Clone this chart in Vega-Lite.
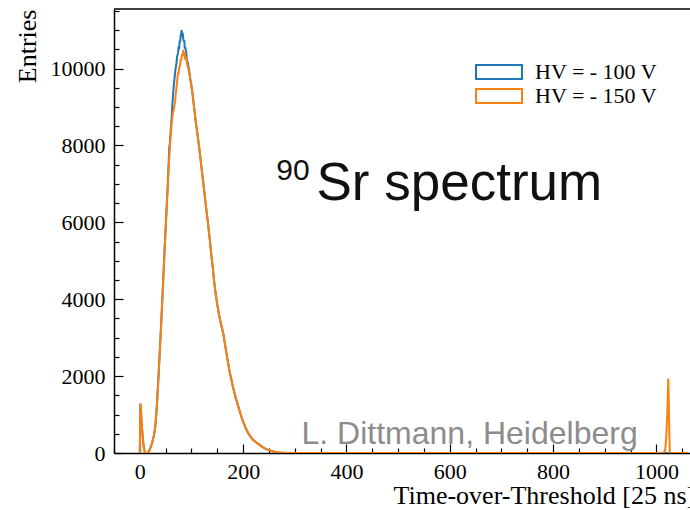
{
  "$schema": "https://vega.github.io/schema/vega-lite/v6.json",
  "width": 576,
  "height": 444,
  "autosize": {"type": "none"},
  "padding": {"left": 114, "top": 9, "right": 0, "bottom": 57},
  "background": "white",
  "config": {"view": {"stroke": null}, "font": "Liberation Serif"},
  "resolve": {"axis": {"x": "independent", "y": "independent"}},
  "datasets": {
    "spectra": [
      {"tot": 0, "entries": 0, "hv": "HV = - 100 V"},
      {"tot": 1, "entries": 1280, "hv": "HV = - 100 V"},
      {"tot": 2, "entries": 1150, "hv": "HV = - 100 V"},
      {"tot": 3, "entries": 900, "hv": "HV = - 100 V"},
      {"tot": 4, "entries": 700, "hv": "HV = - 100 V"},
      {"tot": 5, "entries": 520, "hv": "HV = - 100 V"},
      {"tot": 6, "entries": 360, "hv": "HV = - 100 V"},
      {"tot": 7, "entries": 230, "hv": "HV = - 100 V"},
      {"tot": 8, "entries": 130, "hv": "HV = - 100 V"},
      {"tot": 9, "entries": 60, "hv": "HV = - 100 V"},
      {"tot": 10, "entries": 20, "hv": "HV = - 100 V"},
      {"tot": 11, "entries": 5, "hv": "HV = - 100 V"},
      {"tot": 13, "entries": 0, "hv": "HV = - 100 V"},
      {"tot": 15, "entries": 10, "hv": "HV = - 100 V"},
      {"tot": 18, "entries": 50, "hv": "HV = - 100 V"},
      {"tot": 21, "entries": 150, "hv": "HV = - 100 V"},
      {"tot": 24, "entries": 280, "hv": "HV = - 100 V"},
      {"tot": 27, "entries": 440, "hv": "HV = - 100 V"},
      {"tot": 30, "entries": 690, "hv": "HV = - 100 V"},
      {"tot": 33, "entries": 1240, "hv": "HV = - 100 V"},
      {"tot": 36, "entries": 1960, "hv": "HV = - 100 V"},
      {"tot": 39, "entries": 2760, "hv": "HV = - 100 V"},
      {"tot": 42, "entries": 3560, "hv": "HV = - 100 V"},
      {"tot": 45, "entries": 4440, "hv": "HV = - 100 V"},
      {"tot": 48, "entries": 5320, "hv": "HV = - 100 V"},
      {"tot": 51, "entries": 6140, "hv": "HV = - 100 V"},
      {"tot": 54, "entries": 6980, "hv": "HV = - 100 V"},
      {"tot": 56, "entries": 7600, "hv": "HV = - 100 V"},
      {"tot": 57, "entries": 7950, "hv": "HV = - 100 V"},
      {"tot": 58, "entries": 8050, "hv": "HV = - 100 V"},
      {"tot": 60, "entries": 8420, "hv": "HV = - 100 V"},
      {"tot": 62, "entries": 8800, "hv": "HV = - 100 V"},
      {"tot": 63, "entries": 9080, "hv": "HV = - 100 V"},
      {"tot": 65, "entries": 9450, "hv": "HV = - 100 V"},
      {"tot": 66, "entries": 9600, "hv": "HV = - 100 V"},
      {"tot": 68, "entries": 9850, "hv": "HV = - 100 V"},
      {"tot": 69, "entries": 9980, "hv": "HV = - 100 V"},
      {"tot": 71, "entries": 10150, "hv": "HV = - 100 V"},
      {"tot": 72, "entries": 10300, "hv": "HV = - 100 V"},
      {"tot": 74, "entries": 10420, "hv": "HV = - 100 V"},
      {"tot": 75, "entries": 10580, "hv": "HV = - 100 V"},
      {"tot": 76, "entries": 10500, "hv": "HV = - 100 V"},
      {"tot": 77, "entries": 10720, "hv": "HV = - 100 V"},
      {"tot": 78, "entries": 10680, "hv": "HV = - 100 V"},
      {"tot": 79, "entries": 10850, "hv": "HV = - 100 V"},
      {"tot": 80, "entries": 10920, "hv": "HV = - 100 V"},
      {"tot": 81, "entries": 11000, "hv": "HV = - 100 V"},
      {"tot": 82, "entries": 10820, "hv": "HV = - 100 V"},
      {"tot": 83, "entries": 10930, "hv": "HV = - 100 V"},
      {"tot": 84, "entries": 10780, "hv": "HV = - 100 V"},
      {"tot": 85, "entries": 10700, "hv": "HV = - 100 V"},
      {"tot": 86, "entries": 10740, "hv": "HV = - 100 V"},
      {"tot": 87, "entries": 10520, "hv": "HV = - 100 V"},
      {"tot": 88, "entries": 10560, "hv": "HV = - 100 V"},
      {"tot": 90, "entries": 10400, "hv": "HV = - 100 V"},
      {"tot": 91, "entries": 10220, "hv": "HV = - 100 V"},
      {"tot": 93, "entries": 10150, "hv": "HV = - 100 V"},
      {"tot": 95, "entries": 9980, "hv": "HV = - 100 V"},
      {"tot": 96, "entries": 9900, "hv": "HV = - 100 V"},
      {"tot": 98, "entries": 9700, "hv": "HV = - 100 V"},
      {"tot": 99, "entries": 9640, "hv": "HV = - 100 V"},
      {"tot": 101, "entries": 9450, "hv": "HV = - 100 V"},
      {"tot": 102, "entries": 9350, "hv": "HV = - 100 V"},
      {"tot": 104, "entries": 9120, "hv": "HV = - 100 V"},
      {"tot": 105, "entries": 9000, "hv": "HV = - 100 V"},
      {"tot": 107, "entries": 8760, "hv": "HV = - 100 V"},
      {"tot": 108, "entries": 8650, "hv": "HV = - 100 V"},
      {"tot": 111, "entries": 8350, "hv": "HV = - 100 V"},
      {"tot": 114, "entries": 8050, "hv": "HV = - 100 V"},
      {"tot": 117, "entries": 7700, "hv": "HV = - 100 V"},
      {"tot": 120, "entries": 7350, "hv": "HV = - 100 V"},
      {"tot": 123, "entries": 7000, "hv": "HV = - 100 V"},
      {"tot": 126, "entries": 6650, "hv": "HV = - 100 V"},
      {"tot": 129, "entries": 6300, "hv": "HV = - 100 V"},
      {"tot": 132, "entries": 5980, "hv": "HV = - 100 V"},
      {"tot": 135, "entries": 5600, "hv": "HV = - 100 V"},
      {"tot": 138, "entries": 5200, "hv": "HV = - 100 V"},
      {"tot": 141, "entries": 4850, "hv": "HV = - 100 V"},
      {"tot": 144, "entries": 4450, "hv": "HV = - 100 V"},
      {"tot": 147, "entries": 4120, "hv": "HV = - 100 V"},
      {"tot": 150, "entries": 3860, "hv": "HV = - 100 V"},
      {"tot": 153, "entries": 3620, "hv": "HV = - 100 V"},
      {"tot": 156, "entries": 3420, "hv": "HV = - 100 V"},
      {"tot": 159, "entries": 3250, "hv": "HV = - 100 V"},
      {"tot": 162, "entries": 3080, "hv": "HV = - 100 V"},
      {"tot": 165, "entries": 2820, "hv": "HV = - 100 V"},
      {"tot": 168, "entries": 2570, "hv": "HV = - 100 V"},
      {"tot": 171, "entries": 2330, "hv": "HV = - 100 V"},
      {"tot": 174, "entries": 2100, "hv": "HV = - 100 V"},
      {"tot": 177, "entries": 1920, "hv": "HV = - 100 V"},
      {"tot": 180, "entries": 1740, "hv": "HV = - 100 V"},
      {"tot": 183, "entries": 1570, "hv": "HV = - 100 V"},
      {"tot": 186, "entries": 1420, "hv": "HV = - 100 V"},
      {"tot": 189, "entries": 1280, "hv": "HV = - 100 V"},
      {"tot": 192, "entries": 1150, "hv": "HV = - 100 V"},
      {"tot": 195, "entries": 1010, "hv": "HV = - 100 V"},
      {"tot": 198, "entries": 890, "hv": "HV = - 100 V"},
      {"tot": 201, "entries": 780, "hv": "HV = - 100 V"},
      {"tot": 204, "entries": 680, "hv": "HV = - 100 V"},
      {"tot": 207, "entries": 590, "hv": "HV = - 100 V"},
      {"tot": 210, "entries": 510, "hv": "HV = - 100 V"},
      {"tot": 214, "entries": 430, "hv": "HV = - 100 V"},
      {"tot": 218, "entries": 360, "hv": "HV = - 100 V"},
      {"tot": 222, "entries": 310, "hv": "HV = - 100 V"},
      {"tot": 226, "entries": 265, "hv": "HV = - 100 V"},
      {"tot": 230, "entries": 230, "hv": "HV = - 100 V"},
      {"tot": 235, "entries": 180, "hv": "HV = - 100 V"},
      {"tot": 240, "entries": 135, "hv": "HV = - 100 V"},
      {"tot": 245, "entries": 100, "hv": "HV = - 100 V"},
      {"tot": 250, "entries": 75, "hv": "HV = - 100 V"},
      {"tot": 255, "entries": 55, "hv": "HV = - 100 V"},
      {"tot": 260, "entries": 35, "hv": "HV = - 100 V"},
      {"tot": 270, "entries": 15, "hv": "HV = - 100 V"},
      {"tot": 280, "entries": 6, "hv": "HV = - 100 V"},
      {"tot": 290, "entries": 2, "hv": "HV = - 100 V"},
      {"tot": 300, "entries": 0, "hv": "HV = - 100 V"},
      {"tot": 1060, "entries": 0, "hv": "HV = - 100 V"},

      {"tot": 0, "entries": 0, "hv": "HV = - 150 V"},
      {"tot": 1, "entries": 1290, "hv": "HV = - 150 V"},
      {"tot": 2, "entries": 1160, "hv": "HV = - 150 V"},
      {"tot": 3, "entries": 910, "hv": "HV = - 150 V"},
      {"tot": 4, "entries": 700, "hv": "HV = - 150 V"},
      {"tot": 5, "entries": 510, "hv": "HV = - 150 V"},
      {"tot": 6, "entries": 350, "hv": "HV = - 150 V"},
      {"tot": 7, "entries": 220, "hv": "HV = - 150 V"},
      {"tot": 8, "entries": 120, "hv": "HV = - 150 V"},
      {"tot": 9, "entries": 55, "hv": "HV = - 150 V"},
      {"tot": 10, "entries": 18, "hv": "HV = - 150 V"},
      {"tot": 11, "entries": 4, "hv": "HV = - 150 V"},
      {"tot": 13, "entries": 0, "hv": "HV = - 150 V"},
      {"tot": 15, "entries": 10, "hv": "HV = - 150 V"},
      {"tot": 18, "entries": 45, "hv": "HV = - 150 V"},
      {"tot": 21, "entries": 145, "hv": "HV = - 150 V"},
      {"tot": 24, "entries": 270, "hv": "HV = - 150 V"},
      {"tot": 27, "entries": 430, "hv": "HV = - 150 V"},
      {"tot": 30, "entries": 680, "hv": "HV = - 150 V"},
      {"tot": 33, "entries": 1220, "hv": "HV = - 150 V"},
      {"tot": 36, "entries": 1930, "hv": "HV = - 150 V"},
      {"tot": 39, "entries": 2720, "hv": "HV = - 150 V"},
      {"tot": 42, "entries": 3520, "hv": "HV = - 150 V"},
      {"tot": 45, "entries": 4400, "hv": "HV = - 150 V"},
      {"tot": 48, "entries": 5270, "hv": "HV = - 150 V"},
      {"tot": 51, "entries": 6090, "hv": "HV = - 150 V"},
      {"tot": 54, "entries": 6900, "hv": "HV = - 150 V"},
      {"tot": 56, "entries": 7450, "hv": "HV = - 150 V"},
      {"tot": 58, "entries": 7950, "hv": "HV = - 150 V"},
      {"tot": 60, "entries": 8300, "hv": "HV = - 150 V"},
      {"tot": 62, "entries": 8620, "hv": "HV = - 150 V"},
      {"tot": 64, "entries": 8850, "hv": "HV = - 150 V"},
      {"tot": 66, "entries": 8950, "hv": "HV = - 150 V"},
      {"tot": 68, "entries": 9120, "hv": "HV = - 150 V"},
      {"tot": 70, "entries": 9400, "hv": "HV = - 150 V"},
      {"tot": 72, "entries": 9650, "hv": "HV = - 150 V"},
      {"tot": 74, "entries": 9900, "hv": "HV = - 150 V"},
      {"tot": 75, "entries": 9850, "hv": "HV = - 150 V"},
      {"tot": 76, "entries": 10020, "hv": "HV = - 150 V"},
      {"tot": 78, "entries": 10100, "hv": "HV = - 150 V"},
      {"tot": 79, "entries": 10250, "hv": "HV = - 150 V"},
      {"tot": 80, "entries": 10200, "hv": "HV = - 150 V"},
      {"tot": 81, "entries": 10300, "hv": "HV = - 150 V"},
      {"tot": 82, "entries": 10380, "hv": "HV = - 150 V"},
      {"tot": 83, "entries": 10340, "hv": "HV = - 150 V"},
      {"tot": 84, "entries": 10490, "hv": "HV = - 150 V"},
      {"tot": 85, "entries": 10360, "hv": "HV = - 150 V"},
      {"tot": 86, "entries": 10420, "hv": "HV = - 150 V"},
      {"tot": 87, "entries": 10300, "hv": "HV = - 150 V"},
      {"tot": 88, "entries": 10330, "hv": "HV = - 150 V"},
      {"tot": 90, "entries": 10250, "hv": "HV = - 150 V"},
      {"tot": 91, "entries": 10150, "hv": "HV = - 150 V"},
      {"tot": 93, "entries": 10050, "hv": "HV = - 150 V"},
      {"tot": 95, "entries": 9920, "hv": "HV = - 150 V"},
      {"tot": 96, "entries": 9850, "hv": "HV = - 150 V"},
      {"tot": 98, "entries": 9680, "hv": "HV = - 150 V"},
      {"tot": 99, "entries": 9620, "hv": "HV = - 150 V"},
      {"tot": 101, "entries": 9430, "hv": "HV = - 150 V"},
      {"tot": 102, "entries": 9340, "hv": "HV = - 150 V"},
      {"tot": 104, "entries": 9110, "hv": "HV = - 150 V"},
      {"tot": 105, "entries": 9000, "hv": "HV = - 150 V"},
      {"tot": 107, "entries": 8770, "hv": "HV = - 150 V"},
      {"tot": 108, "entries": 8640, "hv": "HV = - 150 V"},
      {"tot": 111, "entries": 8360, "hv": "HV = - 150 V"},
      {"tot": 114, "entries": 8040, "hv": "HV = - 150 V"},
      {"tot": 117, "entries": 7710, "hv": "HV = - 150 V"},
      {"tot": 120, "entries": 7340, "hv": "HV = - 150 V"},
      {"tot": 123, "entries": 7010, "hv": "HV = - 150 V"},
      {"tot": 126, "entries": 6640, "hv": "HV = - 150 V"},
      {"tot": 129, "entries": 6310, "hv": "HV = - 150 V"},
      {"tot": 132, "entries": 5970, "hv": "HV = - 150 V"},
      {"tot": 135, "entries": 5610, "hv": "HV = - 150 V"},
      {"tot": 138, "entries": 5190, "hv": "HV = - 150 V"},
      {"tot": 141, "entries": 4860, "hv": "HV = - 150 V"},
      {"tot": 144, "entries": 4440, "hv": "HV = - 150 V"},
      {"tot": 147, "entries": 4130, "hv": "HV = - 150 V"},
      {"tot": 150, "entries": 3850, "hv": "HV = - 150 V"},
      {"tot": 153, "entries": 3630, "hv": "HV = - 150 V"},
      {"tot": 156, "entries": 3410, "hv": "HV = - 150 V"},
      {"tot": 159, "entries": 3260, "hv": "HV = - 150 V"},
      {"tot": 162, "entries": 3070, "hv": "HV = - 150 V"},
      {"tot": 165, "entries": 2830, "hv": "HV = - 150 V"},
      {"tot": 168, "entries": 2560, "hv": "HV = - 150 V"},
      {"tot": 171, "entries": 2340, "hv": "HV = - 150 V"},
      {"tot": 174, "entries": 2090, "hv": "HV = - 150 V"},
      {"tot": 177, "entries": 1930, "hv": "HV = - 150 V"},
      {"tot": 180, "entries": 1730, "hv": "HV = - 150 V"},
      {"tot": 183, "entries": 1580, "hv": "HV = - 150 V"},
      {"tot": 186, "entries": 1410, "hv": "HV = - 150 V"},
      {"tot": 189, "entries": 1290, "hv": "HV = - 150 V"},
      {"tot": 192, "entries": 1140, "hv": "HV = - 150 V"},
      {"tot": 195, "entries": 1020, "hv": "HV = - 150 V"},
      {"tot": 198, "entries": 880, "hv": "HV = - 150 V"},
      {"tot": 201, "entries": 790, "hv": "HV = - 150 V"},
      {"tot": 204, "entries": 670, "hv": "HV = - 150 V"},
      {"tot": 207, "entries": 600, "hv": "HV = - 150 V"},
      {"tot": 210, "entries": 500, "hv": "HV = - 150 V"},
      {"tot": 214, "entries": 440, "hv": "HV = - 150 V"},
      {"tot": 218, "entries": 350, "hv": "HV = - 150 V"},
      {"tot": 222, "entries": 320, "hv": "HV = - 150 V"},
      {"tot": 226, "entries": 260, "hv": "HV = - 150 V"},
      {"tot": 230, "entries": 235, "hv": "HV = - 150 V"},
      {"tot": 235, "entries": 175, "hv": "HV = - 150 V"},
      {"tot": 240, "entries": 140, "hv": "HV = - 150 V"},
      {"tot": 245, "entries": 95, "hv": "HV = - 150 V"},
      {"tot": 250, "entries": 78, "hv": "HV = - 150 V"},
      {"tot": 255, "entries": 52, "hv": "HV = - 150 V"},
      {"tot": 260, "entries": 38, "hv": "HV = - 150 V"},
      {"tot": 270, "entries": 14, "hv": "HV = - 150 V"},
      {"tot": 280, "entries": 7, "hv": "HV = - 150 V"},
      {"tot": 290, "entries": 2, "hv": "HV = - 150 V"},
      {"tot": 300, "entries": 0, "hv": "HV = - 150 V"},
      {"tot": 1014, "entries": 0, "hv": "HV = - 150 V"},
      {"tot": 1017, "entries": 80, "hv": "HV = - 150 V"},
      {"tot": 1019, "entries": 400, "hv": "HV = - 150 V"},
      {"tot": 1021, "entries": 1000, "hv": "HV = - 150 V"},
      {"tot": 1022, "entries": 1500, "hv": "HV = - 150 V"},
      {"tot": 1023, "entries": 1935, "hv": "HV = - 150 V"},
      {"tot": 1024, "entries": 1300, "hv": "HV = - 150 V"},
      {"tot": 1025, "entries": 500, "hv": "HV = - 150 V"},
      {"tot": 1026, "entries": 0, "hv": "HV = - 150 V"},
      {"tot": 1060, "entries": 0, "hv": "HV = - 150 V"}
    ],
    "labels": [
      {"x": 342, "y": 6590, "text": "Sr spectrum", "kind": "main"},
      {"x": 264, "y": 7094, "text": "90", "kind": "sup"},
      {"x": 313, "y": 245, "text": "L. Dittmann, Heidelberg", "kind": "credit"}
    ]
  },
  "layer": [
    {
      "data": {"name": "spectra"},
      "mark": {"type": "line", "strokeWidth": 2, "clip": true},
      "encoding": {
        "x": {
          "field": "tot",
          "type": "quantitative",
          "scale": {"domain": [-50, 1065], "nice": false, "zero": false},
          "axis": {
            "orient": "bottom",
            "values": [0, 200, 400, 600, 800, 1000],
            "format": "d",
            "grid": false,
            "tickSize": -9,
            "tickColor": "black",
            "tickWidth": 1.2,
            "domainColor": "black",
            "domainWidth": 1.5,
            "labelFont": "Liberation Serif",
            "labelFontSize": 22,
            "labelColor": "black",
            "labelPadding": 17,
            "labelFlush": false,
            "labelOverlap": false,
            "title": "Time-over-Threshold [25 ns]",
            "titleFont": "Liberation Serif",
            "titleFontSize": 26,
            "titleFontWeight": "normal",
            "titleColor": "black",
            "titleAnchor": "start",
            "titleAlign": "left",
            "titleBaseline": "alphabetic",
            "titleX": 279,
            "titleY": 50
          }
        },
        "y": {
          "field": "entries",
          "type": "quantitative",
          "scale": {"domain": [0, 11550], "nice": false},
          "axis": {
            "orient": "left",
            "values": [0, 2000, 4000, 6000, 8000, 10000],
            "format": "d",
            "grid": false,
            "tickSize": -9,
            "tickColor": "black",
            "tickWidth": 1.2,
            "domainColor": "black",
            "domainWidth": 1.5,
            "labelFont": "Liberation Serif",
            "labelFontSize": 22,
            "labelColor": "black",
            "labelPadding": 18,
            "labelFlush": false,
            "labelOverlap": false,
            "title": "Entries",
            "titleFont": "Liberation Serif",
            "titleFontSize": 26,
            "titleFontWeight": "normal",
            "titleColor": "black",
            "titleAngle": -90,
            "titleAlign": "right",
            "titleBaseline": "top",
            "titleX": -100,
            "titleY": 0
          }
        },
        "color": {
          "field": "hv",
          "type": "nominal",
          "scale": {"domain": ["HV = - 100 V", "HV = - 150 V"], "range": ["#1f77b4", "#ff7f0e"]},
          "legend": {
            "orient": "none",
            "legendX": 374,
            "legendY": 52,
            "title": null,
            "padding": 0,
            "symbolType": "M-3.286,-1H3.286V1H-3.286Z",
            "symbolSize": 196,
            "symbolStrokeWidth": 2,
            "labelFont": "Liberation Serif",
            "labelFontSize": 22,
            "labelColor": "black",
            "labelOffset": 25,
            "rowPadding": 2
          }
        }
      }
    },
    {
      "data": {"values": [{}]},
      "mark": {"type": "rule", "color": "black", "strokeWidth": 1.5},
      "encoding": {"y": {"datum": 11550, "axis": null}}
    },
    {
      "data": {"name": "labels"},
      "transform": [{"filter": "datum.kind === 'main'"}],
      "mark": {"type": "text", "font": "Liberation Sans", "fontSize": 53, "align": "left", "baseline": "alphabetic", "color": "#111111"},
      "encoding": {
        "x": {"field": "x", "type": "quantitative", "axis": null},
        "y": {"field": "y", "type": "quantitative", "axis": null},
        "text": {"field": "text"}
      }
    },
    {
      "data": {"name": "labels"},
      "transform": [{"filter": "datum.kind === 'sup'"}],
      "mark": {"type": "text", "font": "Liberation Sans", "fontSize": 30, "align": "left", "baseline": "alphabetic", "color": "#111111"},
      "encoding": {
        "x": {"field": "x", "type": "quantitative", "axis": null},
        "y": {"field": "y", "type": "quantitative", "axis": null},
        "text": {"field": "text"}
      }
    },
    {
      "data": {"name": "labels"},
      "transform": [{"filter": "datum.kind === 'credit'"}],
      "mark": {"type": "text", "font": "Liberation Sans", "fontSize": 32, "align": "left", "baseline": "alphabetic", "color": "#8c8c8c"},
      "encoding": {
        "x": {
          "field": "x",
          "type": "quantitative",
          "axis": {
            "orient": "bottom",
            "values": [-50, 50, 100, 150, 250, 300, 350, 450, 500, 550, 650, 700, 750, 850, 900, 950, 1050],
            "labels": false,
            "domain": false,
            "grid": false,
            "title": null,
            "tickSize": -5,
            "tickColor": "black",
            "tickWidth": 1.2
          }
        },
        "y": {
          "field": "y",
          "type": "quantitative",
          "axis": {
            "orient": "left",
            "values": [500, 1000, 1500, 2500, 3000, 3500, 4500, 5000, 5500, 6500, 7000, 7500, 8500, 9000, 9500, 10500, 11000, 11500],
            "labels": false,
            "domain": false,
            "grid": false,
            "title": null,
            "tickSize": -5,
            "tickColor": "black",
            "tickWidth": 1.2
          }
        },
        "text": {"field": "text"}
      }
    }
  ]
}
